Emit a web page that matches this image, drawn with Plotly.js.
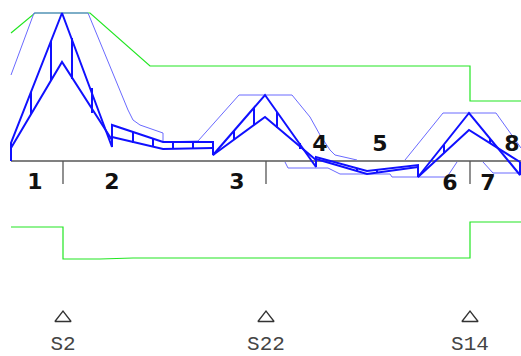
<!DOCTYPE html>
<html><head><meta charset="utf-8">
<script src="https://cdn.plot.ly/plotly-3.0.1.min.js"></script>
<style>html,body{margin:0;padding:0;background:#fff}</style>
</head><body><div id="chart" style="width:521px;height:356px"></div>
<script>
// Positions along the beam (x) and diagram ordinates (y, drawn downward)
const beamX = [11, 521];
const beamY = [161, 161];
const supportX = [63, 266, 470];
const supportNames = ['S2', 'S22', 'S14'];
const spanLabelX = [35, 112, 237, 320, 380, 450, 488, 512];
const spanLabelY = [183, 183, 183, 145, 145, 184, 184, 145];
const spanLabels = ['1', '2', '3', '4', '5', '6', '7', '8'];

// green limit lines
const limTopX = [11, 35, 90, 150, 470, 470, 521];
const limTopY = [33, 13, 13, 66, 66, 101, 101];
const limBotX = [11, 63, 63, 100, 133, 470, 470, 521];
const limBotY = [227, 227, 259, 259, 258, 258, 222, 222];

// thin envelope lines
const envUpX = [11, 34, 88, 128, 133, 140, 163, 163, 198, 239, 292, 310, 320, 330, 335, 350, 357];
const envUpY = [75, 13, 13, 110, 120, 125, 133, 142, 141, 95, 95, 117, 135, 150, 155, 158, 160];
const envUp2X = [405, 443, 496, 512, 521];
const envUp2Y = [160, 113, 113, 135, 148];
const envLowX = [285, 288, 328, 340, 390, 392, 447, 457];
const envLowY = [162, 168, 168, 174, 174, 177, 177, 162];
const envLow2X = [483, 493, 521];
const envLow2Y = [162, 173, 173];

// thick outer envelope
const outerX = [11, 11, 62, 112, 112, 163, 213, 213, 265, 316, 316, 367, 418, 418, 469, 520, 520];
const outerY = [161, 143, 13, 147, 125, 142, 142, 155, 95, 167, 157, 171, 165, 177, 113, 175, 162];
// thick inner envelope pieces
const inner1X = [11, 62, 112], inner1Y = [148, 62, 140];
const inner2X = [112, 163, 213], inner2Y = [137, 149, 148];
const inner3X = [213, 265, 316], inner3Y = [155, 117, 160];
const inner4X = [316, 367, 418], inner4Y = [159, 174, 167];
const inner5X = [418, 469, 520], inner5Y = [177, 130, 162];

// hatch verticals
const hatchX   = [31, 51, 72, 92, 133, 153, 173, 193, 234, 254, 277, 300, 357, 377, 444, 490];
const hatchTop = [92, 41, 38, 88, 132, 139, 142, 142, 131, 107, 112, 143, 168, 170, 145, 138];
const hatchBot = [114, 81, 79, 113, 143, 146, 149, 148, 140, 125, 128, 149, 171, 173, 153, 143];

const tickTop = 161, tickBot = 184;
const triY = 318, nameY = 345;

const BLUE = '#1010ff', THIN = '#6a6aff', GREEN = '#22e622';
function seg(xs, ys1, ys2) {
  const X = [], Y = [];
  xs.forEach((x, i) => { X.push(x, x, null); Y.push(ys1[i], ys2[i], null); });
  return {X, Y};
}
const h = seg(hatchX, hatchTop, hatchBot);
const t = seg(supportX, supportX.map(() => tickTop), supportX.map(() => tickBot));
const line = (x, y, color, w) => ({x, y, type: 'scatter', mode: 'lines', line: {color, width: w}, hoverinfo: 'skip'});

const traces = [
  line(limTopX, limTopY, GREEN, 1.2),
  line(limBotX, limBotY, GREEN, 1.2),
  line(beamX, beamY, '#808080', 2),
  line(t.X, t.Y, '#555', 1.3),
  line(envUpX, envUpY, THIN, 1),
  line(envUp2X, envUp2Y, THIN, 1),
  line(envLowX, envLowY, THIN, 1),
  line(envLow2X, envLow2Y, THIN, 1),
  line(outerX, outerY, BLUE, 2),
  line(inner1X, inner1Y, BLUE, 2),
  line(inner2X, inner2Y, BLUE, 2),
  line(inner3X, inner3Y, BLUE, 2),
  line(inner4X, inner4Y, BLUE, 2),
  line(inner5X, inner5Y, BLUE, 2),
  line(h.X, h.Y, BLUE, 2),
  {x: spanLabelX, y: spanLabelY, text: spanLabels, type: 'scatter', mode: 'text',
   textfont: {family: 'DejaVu Sans', size: 22, color: '#111', weight: 'bold'}, hoverinfo: 'skip'},
  {x: supportX, y: supportX.map(() => triY), type: 'scatter', mode: 'markers',
   marker: {symbol: 'triangle-up-open', size: 14, color: '#333', line: {width: 1.3, color: '#333'}}, hoverinfo: 'skip'},
  {x: supportX, y: supportX.map(() => nameY), text: supportNames, type: 'scatter', mode: 'text',
   textfont: {family: 'Liberation Mono', size: 21, color: '#444'}, hoverinfo: 'skip'}
];

const layout = {
  width: 521, height: 356, margin: {l: 0, r: 0, t: 0, b: 0},
  paper_bgcolor: '#fff', plot_bgcolor: '#fff', showlegend: false,
  xaxis: {range: [0, 521], visible: false, fixedrange: true},
  yaxis: {range: [356, 0], visible: false, fixedrange: true}
};
Plotly.newPlot('chart', traces, layout, {staticPlot: true});
</script></body></html>
